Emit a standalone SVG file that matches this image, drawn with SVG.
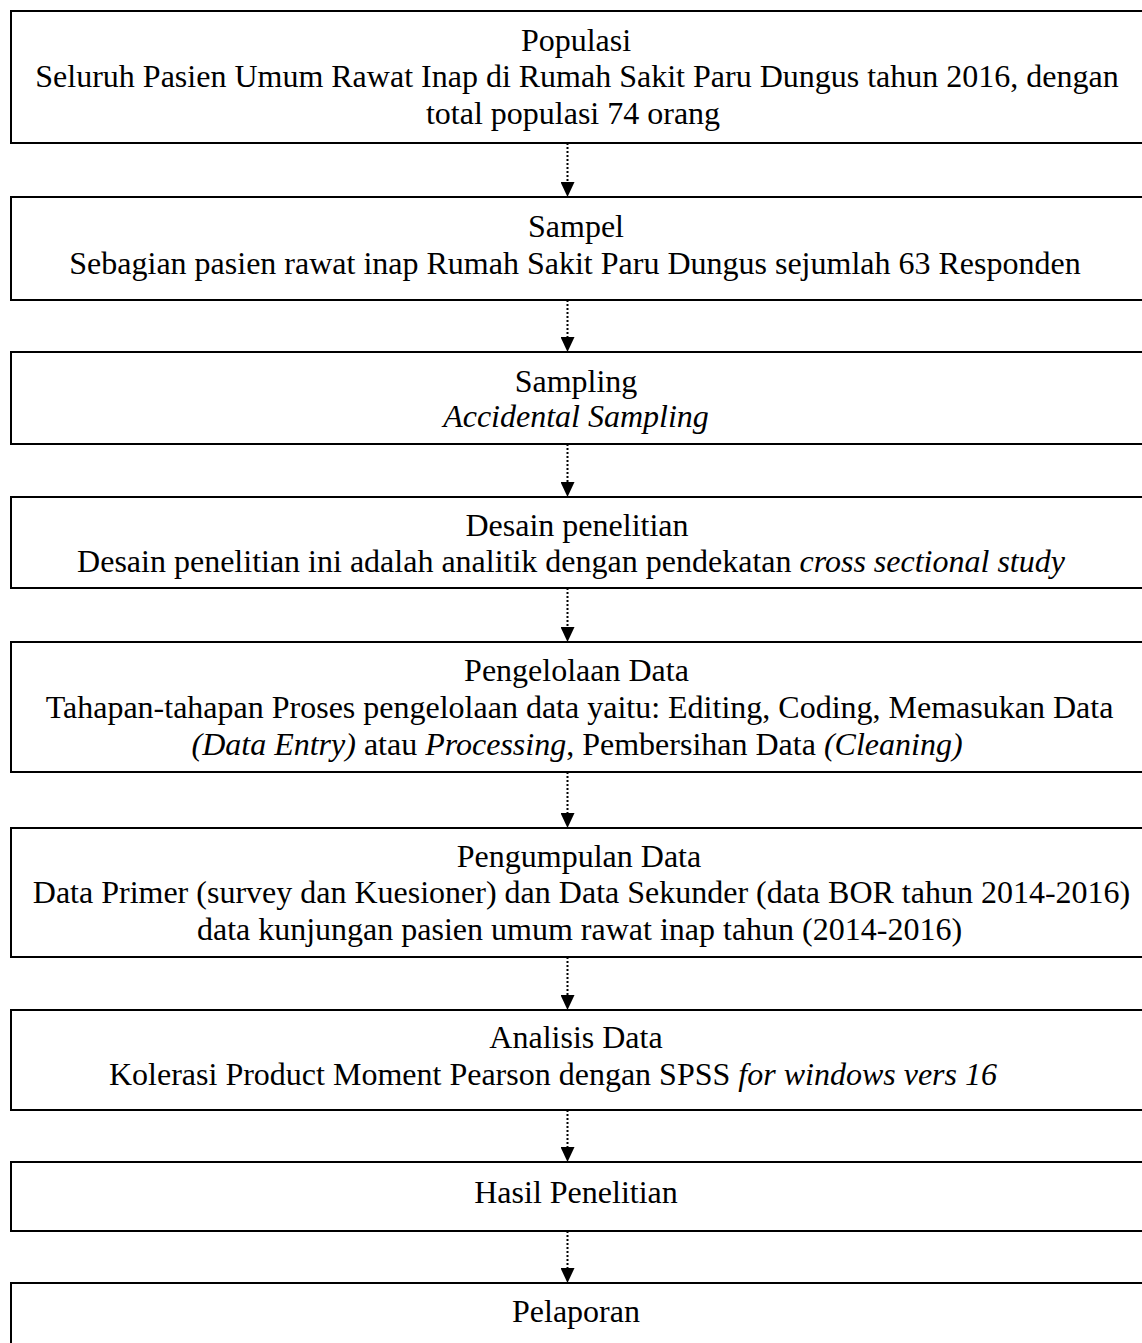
<svg xmlns="http://www.w3.org/2000/svg" width="1142" height="1343" viewBox="0 0 1142 1343">
<style>
.box{fill:#fff;stroke:#000;stroke-width:2}
.t{font-family:"Liberation Serif","Times New Roman",serif;font-size:32px;fill:#000;text-anchor:middle}
.i{font-style:italic}
.c{fill:none;stroke:#000;stroke-width:2;stroke-dasharray:2 2}
</style>
<defs>
<marker id="arrow" viewBox="0 0 15 14" refX="0" refY="7" markerWidth="15" markerHeight="14" markerUnits="userSpaceOnUse" orient="auto">
<path d="M0,0 L15,7 L0,14 z" fill="#000"/>
</marker>
</defs>
<rect width="1142" height="1343" fill="#fff"/>
<g id="connectors">
<path class="c" d="M567.5,143 V182" marker-end="url(#arrow)"/>
<path class="c" d="M567.5,300 V337" marker-end="url(#arrow)"/>
<path class="c" d="M567.5,444 V482" marker-end="url(#arrow)"/>
<path class="c" d="M567.5,588 V627" marker-end="url(#arrow)"/>
<path class="c" d="M567.5,772 V813" marker-end="url(#arrow)"/>
<path class="c" d="M567.5,957 V995" marker-end="url(#arrow)"/>
<path class="c" d="M567.5,1110 V1147" marker-end="url(#arrow)"/>
<path class="c" d="M567.5,1231 V1268" marker-end="url(#arrow)"/>
</g>
<g id="populasi">
<rect class="box" x="11" y="11" width="1140" height="132"/>
<text class="t" x="576" y="51">Populasi</text>
<text class="t" x="577" y="87">Seluruh Pasien Umum Rawat Inap di Rumah Sakit Paru Dungus tahun 2016, dengan</text>
<text class="t" x="573" y="124">total populasi 74 orang</text>
</g>
<g id="sampel">
<rect class="box" x="11" y="197" width="1140" height="103"/>
<text class="t" x="576" y="237">Sampel</text>
<text class="t" x="575" y="274">Sebagian pasien rawat inap Rumah Sakit Paru Dungus sejumlah 63 Responden</text>
</g>
<g id="sampling">
<rect class="box" x="11" y="352" width="1140" height="92"/>
<text class="t" x="576" y="392">Sampling</text>
<text class="t i" x="576" y="427">Accidental Sampling</text>
</g>
<g id="desain">
<rect class="box" x="11" y="497" width="1140" height="91"/>
<text class="t" x="577" y="536">Desain penelitian</text>
<text class="t" x="571" y="572">Desain penelitian ini adalah analitik dengan pendekatan <tspan class="i">cross sectional study</tspan></text>
</g>
<g id="pengelolaan">
<rect class="box" x="11" y="642" width="1140" height="130"/>
<text class="t" x="576.5" y="681">Pengelolaan Data</text>
<text class="t" x="579.5" y="718">Tahapan-tahapan Proses pengelolaan data yaitu: Editing, Coding, Memasukan Data</text>
<text class="t" x="577" y="755"><tspan class="i">(Data Entry)</tspan> atau <tspan class="i">Processing</tspan>, Pembersihan Data <tspan class="i">(Cleaning)</tspan></text>
</g>
<g id="pengumpulan">
<rect class="box" x="11" y="828" width="1140" height="129"/>
<text class="t" x="579" y="867">Pengumpulan Data</text>
<text class="t" x="581.5" y="903">Data Primer (survey dan Kuesioner) dan Data Sekunder (data BOR tahun 2014-2016)</text>
<text class="t" x="579.5" y="940">data kunjungan pasien umum rawat inap tahun (2014-2016)</text>
</g>
<g id="analisis">
<rect class="box" x="11" y="1010" width="1140" height="100"/>
<text class="t" x="576" y="1048">Analisis Data</text>
<text class="t" x="553" y="1085">Kolerasi Product Moment Pearson dengan SPSS <tspan class="i">for windows vers 16</tspan></text>
</g>
<g id="hasil">
<rect class="box" x="11" y="1162" width="1140" height="69"/>
<text class="t" x="576" y="1203">Hasil Penelitian</text>
</g>
<g id="pelaporan">
<rect class="box" x="11" y="1283" width="1140" height="100"/>
<text class="t" x="576" y="1322">Pelaporan</text>
</g>
</svg>
